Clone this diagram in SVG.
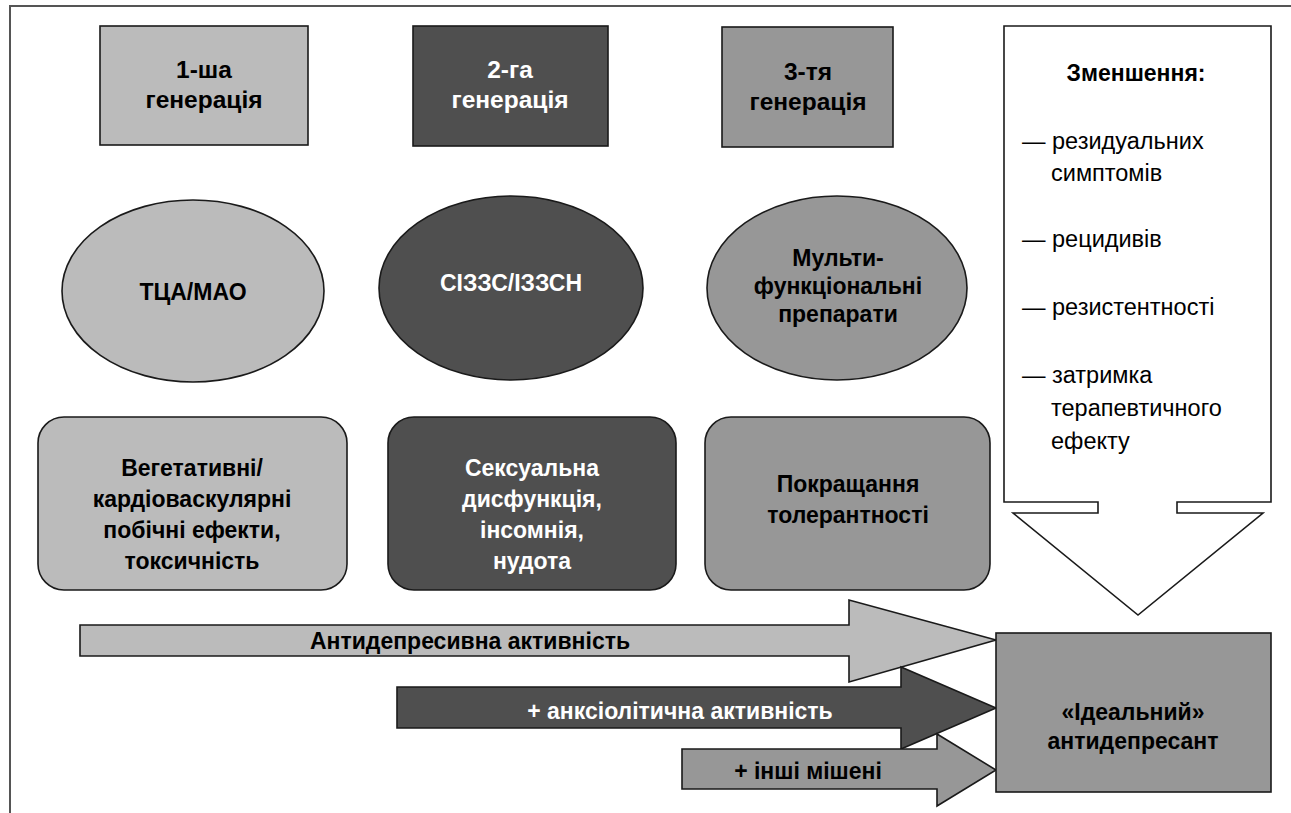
<svg xmlns="http://www.w3.org/2000/svg" width="1291" height="813" viewBox="0 0 1291 813">
<style>
.t{font-family:"Liberation Sans",Arial,sans-serif;font-size:23px;text-anchor:middle}
.g{font-size:24.5px}
.b{font-weight:bold}
.w{fill:#ffffff}
.k{fill:#000000}
.s{stroke:#1a1a1a;stroke-width:1.6}
.l{fill:#bbbbbb}
.d{fill:#4f4f4f}
.m{fill:#979797}
.r{font-family:"Liberation Sans",Arial,sans-serif;font-size:23.5px;fill:#000}
</style>
<rect width="1291" height="813" fill="#ffffff"/>
<path d="M10,813 V6 H1291" fill="none" stroke="#555" stroke-width="2"/>

<g id="gen1"><rect x="100" y="26" width="208" height="119" class="l s"/>
<text class="t g b k" x="204" y="78">1-ша</text><text class="t g b k" x="204" y="108">генерація</text></g>
<g id="gen2"><rect x="413" y="26" width="195" height="120" class="d s"/>
<text class="t g b w" x="510" y="78">2-га</text><text class="t g b w" x="510" y="108">генерація</text></g>
<g id="gen3"><rect x="722" y="27" width="171" height="120" class="m s"/>
<text class="t g b k" x="808" y="80">3-тя</text><text class="t g b k" x="808" y="110">генерація</text></g>

<g id="reduce">
<path d="M1004,26 H1271 V502 H1177 V513 H1263 L1138,615 L1013,513 H1098 V502 H1004 Z" fill="#ffffff" class="s"/>
<text class="t b k" x="1136" y="81">Зменшення:</text>
<text class="r" x="1022" y="149">— резидуальних</text>
<text class="r" x="1051" y="181">симптомів</text>
<text class="r" x="1022" y="247">— рецидивів</text>
<text class="r" x="1022" y="315">— резистентності</text>
<text class="r" x="1022" y="383">— затримка</text>
<text class="r" x="1051" y="416">терапевтичного</text>
<text class="r" x="1051" y="449">ефекту</text>
</g>

<g id="tca"><ellipse cx="193" cy="291" rx="131" ry="91" class="l s"/>
<text class="t b k" x="193" y="300">ТЦА/МАО</text></g>
<g id="ssri"><ellipse cx="511" cy="288" rx="132" ry="92" class="d s"/>
<text class="t b w" x="511" y="291">СІЗЗС/ІЗЗСН</text></g>
<g id="multi"><ellipse cx="837" cy="288" rx="130" ry="92" class="m s"/>
<text class="t b k" x="838" y="266">Мульти-</text><text class="t b k" x="838" y="294">функціональні</text><text class="t b k" x="838" y="322">препарати</text></g>

<g id="side1"><rect x="38" y="417" width="309" height="173" rx="26" class="l s"/>
<text class="t b k" x="192" y="476">Вегетативні/</text><text class="t b k" x="192" y="507">кардіоваскулярні</text><text class="t b k" x="192" y="538">побічні ефекти,</text><text class="t b k" x="192" y="569">токсичність</text></g>
<g id="side2"><rect x="388" y="417" width="288" height="173" rx="26" class="d s"/>
<text class="t b w" x="532" y="476">Сексуальна</text><text class="t b w" x="532" y="507">дисфункція,</text><text class="t b w" x="532" y="538">інсомнія,</text><text class="t b w" x="532" y="569">нудота</text></g>
<g id="side3"><rect x="705" y="417" width="285" height="173" rx="26" class="m s"/>
<text class="t b k" x="848" y="492">Покращання</text><text class="t b k" x="848" y="523">толерантності</text></g>

<g id="connectors">
<path d="M80,625 H849 V600 L996,640 L849,682 V656 H80 Z" class="l s"/>
<path d="M397,687 H901 V667 L996,708 L901,749 V728 H397 Z" class="d s"/>
<path d="M682,749 H937 V734 L996,770 L937,806 V789 H682 Z" class="m s"/>
<text class="t b k" x="470" y="649">Антидепресивна активність</text>
<text class="t b w" x="680" y="719">+ анксіолітична активність</text>
<text class="t b k" x="808" y="779">+ інші мішені</text>
</g>

<g id="ideal"><rect x="996" y="633" width="275" height="159" class="m s"/>
<text class="t b k" x="1133" y="720">«Ідеальний»</text><text class="t b k" x="1133" y="749">антидепресант</text></g>
</svg>
